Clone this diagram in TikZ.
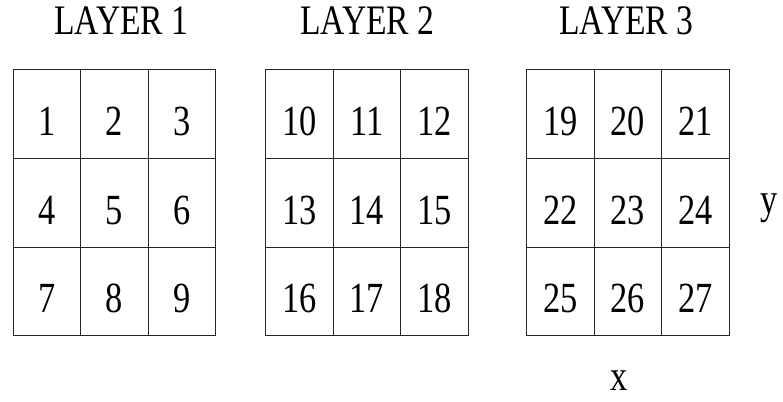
\documentclass[tikz,border=0pt]{standalone}
\usepackage{fontspec}
\setmainfont{Liberation Serif}
\newfontfamily\narrowfont[FakeStretch=0.8]{Liberation Serif}
\tikzset{
  cell/.style={draw=black!85, line width=0.9pt, minimum width=67.5pt, minimum height=88.6pt,
    inner sep=0pt, anchor=north west, font=\fontsize{43}{43}\selectfont\narrowfont,
    text height=50pt, text depth=7pt},
  layerlabel/.style={anchor=base, inner sep=0pt, font=\fontsize{42}{42}\selectfont\narrowfont},
  axislabel/.style={anchor=base, inner sep=0pt, font=\fontsize{43}{43}\selectfont\narrowfont}
}
\begin{document}
\begin{tikzpicture}[x=1pt,y=-1pt]
\useasboundingbox (0,0) rectangle (783,401);
\foreach \L/\x in {0/12.7,1/265,2/526}{
  \foreach \r in {0,1,2}{
    \foreach \c in {0,1,2}{
      \pgfmathtruncatemacro\n{\L*9+\r*3+\c+1}
      \node[cell] (c\n) at ({\x+\c*67.5},{69.3+\r*88.6}) {\n};
    }
  }
}
\node[layerlabel] (l1) at (121.5,35) {LAYER 1};
\node[layerlabel] (l2) at (367.5,35) {LAYER 2};
\node[layerlabel] (l3) at (626.5,35) {LAYER 3};
\node[axislabel] (ylab) at (769,213) {y};
\node[axislabel] (xlab) at (619,390) {x};
\end{tikzpicture}
\end{document}
